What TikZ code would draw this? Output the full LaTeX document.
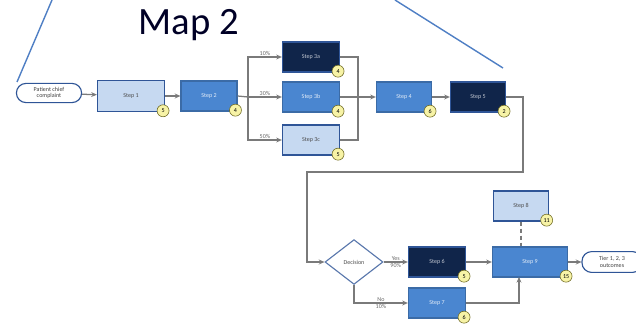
\documentclass[tikz,border=0pt]{standalone}
\usepackage{fontspec}
\setmainfont{Carlito}
\usepackage{xcolor}
\usepackage{tikz}
\usetikzlibrary{arrows.meta, positioning, shapes.geometric}
\definecolor{navy}{HTML}{10254A}
\definecolor{midblue}{HTML}{4A86D0}
\definecolor{lightblue}{HTML}{C6D9F1}
\definecolor{edgeblue}{HTML}{2F5597}
\definecolor{badgefill}{HTML}{F7F3A6}
\definecolor{linkgray}{HTML}{7A7A7A}
\definecolor{rayblue}{HTML}{4F7FC4}

\begin{document}
\begin{tikzpicture}[x=0.025cm, y=-0.025cm,
    stepbox/.style={rectangle, draw=edgeblue, line width=0.8pt, minimum width=1.43cm, minimum height=0.75cm, inner sep=0pt, font=\fontsize{4.3}{4.8}\selectfont},
    dark/.style={stepbox, fill=navy, text=white!75!navy},
    mid/.style={stepbox, fill=midblue, draw=midblue!80!black, text=white!85!midblue},
    light/.style={stepbox, fill=lightblue, text=black!70},
    terminal/.style={rectangle, rounded corners=0.24cm, draw=edgeblue, line width=0.8pt, fill=white, minimum width=1.63cm, minimum height=0.48cm, align=center, inner sep=0pt, font=\fontsize{4.3}{4.8}\selectfont, text=black!75},
    decision/.style={diamond, draw=edgeblue!80, line width=0.8pt, fill=white, minimum width=1.45cm, minimum height=1.12cm, inner sep=0pt, font=\fontsize{4.3}{4.8}\selectfont, text=black!70},
    badge/.style={circle, draw=olive!70!black, fill=badgefill, minimum size=0.3cm, inner sep=0pt, font=\fontsize{4.3}{4.8}\selectfont},
    link/.style={draw=linkgray, line width=0.9pt},
    arrow/.style={link, -{Stealth[length=4pt, width=3.5pt]}},
    pct/.style={font=\fontsize{4.3}{4.8}\selectfont, text=black!60, inner sep=0.5pt},
    ray/.style={draw=rayblue, line width=1pt},
]
\useasboundingbox (0,0) rectangle (636,328);

\node[font=\fontsize{27.5}{30}\selectfont, text=black!85!blue] (title) at (189,25) {Map 2};
\coordinate (rayA) at (52,0);
\coordinate (rayB) at (17,82);
\coordinate (rayC) at (395,0);
\coordinate (rayD) at (503,68);
\draw[ray] (rayA) -- (rayB);
\draw[ray] (rayC) -- (rayD);

\node[terminal] (start) at (49,93) {Patient chief\\complaint};
\node[light, minimum width=1.68cm, minimum height=0.78cm] (s1) at (131,96) {Step 1};
\node[mid, minimum width=1.4cm] (s2) at (209,96) {Step 2};
\node[dark] (s3a) at (311,57) {Step 3a};
\node[mid] (s3b) at (311,97) {Step 3b};
\node[light] (s3c) at (311,140) {Step 3c};
\node[mid, minimum width=1.38cm] (s4) at (404,97) {Step 4};
\node[dark, minimum width=1.38cm] (s5) at (478,97) {Step 5};
\node[decision] (dec) at (354,262) {Decision};
\node[dark] (s6) at (437,262) {Step 6};
\node[mid] (s7) at (437,303) {Step 7};
\node[light, minimum width=1.36cm] (s8) at (521,206) {Step 8};
\node[mid, minimum width=1.88cm] (s9) at (530,262) {Step 9};
\node[terminal, minimum width=1.5cm, minimum height=0.52cm] (tier) at (612,262) {Tier 1, 2, 3\\outcomes};

\foreach \n/\v in {s1/5, s2/4, s3a/4, s3b/4, s3c/5, s4/6, s5/2, s6/5, s7/6, s8/11, s9/15}
    \node[badge] (b\n) at ([xshift=-1.5pt, yshift=1pt]\n.south east) {\v};

\coordinate (split) at (248,97);
\coordinate (join) at (358,97);
\coordinate (loopR) at (523,172);
\coordinate (loopL) at (307,172);
\coordinate (s9in) at (519,277);

\draw[arrow] (start) -- (s1);
\draw[arrow] (s1) -- (s2);
\draw[link] (s2.east) -- (split);
\draw[arrow] (split) |- node[pct, pos=0.75, above] {10\%} (s3a.west);
\draw[arrow] (split) -- node[pct, above] {30\%} (s3b.west);
\draw[arrow] (split) |- node[pct, pos=0.75, above] {50\%} (s3c.west);
\draw[link] (s3a.east) -| (join);
\draw[link] (s3b.east) -- (join);
\draw[link] (s3c.east) -| (join);
\draw[arrow] (join) -- (s4);
\draw[arrow] (s4) -- (s5);
\draw[arrow] (s5.east) -| (loopR) -- (loopL) |- (dec.west);
\draw[arrow] (dec) -- node[pct, align=center] {Yes\\90\%} (s6);
\draw[arrow] (dec.south) |- node[pct, pos=0.75, align=center] {No\\10\%} (s7.west);
\draw[arrow] (s6) -- (s9);
\draw[arrow] (s7.east) -| (s9in);
\draw[link, densely dashed] (s8.south) -- (s8.south |- s9.north);
\draw[arrow] (s9) -- (tier);
\end{tikzpicture}
\end{document}
